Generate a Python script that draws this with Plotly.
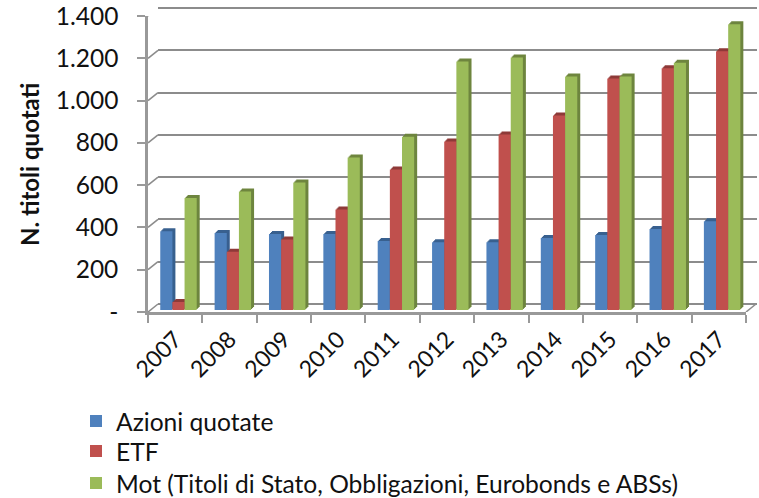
import plotly.graph_objects as go

years = ["2007","2008","2009","2010","2011","2012","2013","2014","2015","2016","2017"]
azioni = [373,364,360,360,326,321,321,340,355,383,420]
etf = [38,275,334,475,664,797,830,920,1095,1144,1224]
mot = [530,560,603,721,820,1175,1194,1104,1104,1169,1352]
y_ticks = [0,200,400,600,800,1000,1200,1400]
y_labels = ["-","200","400","600","800","1.000","1.200","1.400"]
names = ["Azioni quotate","ETF","Mot (Titoli di Stato, Obbligazioni, Eurobonds e ABSs)"]
series = [azioni, etf, mot]
front_colors = ["#4F81BD","#C0504D","#9BBB59"]
side_colors = ["#38608F","#8E3A38","#6E853F"]
legend_rows = [421, 451, 483]

W, H = 759, 498
FONT = "Lato, Carlito, sans-serif"
TXT = "#111111"
GRID = "#8C8C8C"
fx = lambda p: p / W
fy = lambda p: 1 - p / H

# pixel geometry of the three overlaid planes
L, R, T, B = 148, 746, 16, 312
cat_w = (R - L) / len(years)
px_per_unit = (B - T) / 1400
wall_dx, wall_dy = 10, 8
bar_dx, bar_dy = 3.3, 2
bar_w = 12.15 / cat_w
depth_px = [3, 2, 1]
cat_range = [-0.5, len(years) - 0.5]
wall_pad = 2  # px of extra wall range so the end gridlines are kept

fig = go.Figure()
# empty carriers so the wall and front planes exist as subplots
fig.add_scatter(x=[None], y=[None], xaxis="x", yaxis="y", showlegend=False, hoverinfo="skip")
fig.add_scatter(x=[None], y=[None], xaxis="x2", yaxis="y2", showlegend=False, hoverinfo="skip")
for i, (name, vals) in enumerate(zip(names, series)):
    off = (i - 1.5) * bar_w
    for s in depth_px:
        fig.add_bar(x=years, y=vals, base=[s / px_per_unit] * len(vals), width=bar_w,
                    offset=off + s / cat_w, marker=dict(color=side_colors[i], line_width=0),
                    showlegend=False, hoverinfo="skip", xaxis="x3", yaxis="y3")
    fig.add_bar(x=years, y=vals, name=name, width=bar_w, offset=off, showlegend=False,
                marker=dict(color=front_colors[i], line_width=0), xaxis="x3", yaxis="y3")
    # legend key, one independent legend per row
    fig.add_scatter(x=[None], y=[None], mode="markers", name=name, showlegend=True,
                    marker=dict(symbol="square", size=15, color=front_colors[i], line_width=0),
                    xaxis="x3", yaxis="y3", legend="legend" if i == 0 else f"legend{i + 1}")

common_y = dict(range=[0, 1400], tickmode="array", tickvals=y_ticks, fixedrange=True, zeroline=False)
wall_y = dict(common_y, range=[-wall_pad / px_per_unit, 1400 + wall_pad / px_per_unit])
legend_base = dict(x=fx(76), xanchor="left", yanchor="middle", itemsizing="constant",
                   font=dict(size=24.6, color=TXT), bgcolor="rgba(0,0,0,0)")
fig.update_layout(
    width=W, height=H, autosize=False,
    margin=dict(l=0, r=0, t=0, b=0, autoexpand=False),
    paper_bgcolor="white", plot_bgcolor="rgba(0,0,0,0)",
    barmode="overlay",
    font=dict(family=FONT, size=23, color=TXT),
    # back wall: gridlines only
    xaxis=dict(domain=[fx(L + wall_dx), fx(R + wall_dx + 1)], anchor="y", showgrid=False, showticklabels=False,
               ticks="", showline=False, zeroline=False, range=[0, 1], fixedrange=True),
    yaxis=dict(domain=[fy(B - wall_dy + wall_pad), fy(T - wall_dy - wall_pad)], anchor="x",
               showticklabels=False, ticks="", showgrid=True, gridcolor=GRID, gridwidth=1.6,
               showline=False, **wall_y),
    # front axes: ticks and labels
    xaxis2=dict(domain=[fx(L), fx(R)], anchor="y2", type="category", categoryorder="array",
                categoryarray=years, tickmode="array", tickvals=years, ticktext=years, range=cat_range,
                tickson="boundaries", ticks="outside", ticklen=8, tickwidth=2, tickcolor="#999999",
                showline=True, linecolor="#999999", linewidth=2.5, showgrid=False, ticklabelstandoff=2,
                tickangle=-45, tickfont=dict(size=23, color=TXT), fixedrange=True),
    yaxis2=dict(domain=[fy(B), fy(T)], anchor="x2", ticktext=y_labels, ticks="outside", ticklen=8,
                tickwidth=2, tickcolor="#999999", showline=True, linecolor="#999999", linewidth=2.5,
                showgrid=False, ticklabelstandoff=14, ticklabeloverflow="allow",
                tickfont=dict(size=24.5, color=TXT), **common_y),
    # bars plane
    xaxis3=dict(domain=[fx(L + bar_dx), fx(R + bar_dx)], anchor="y3", type="category",
                categoryorder="array", categoryarray=years, range=cat_range, visible=False, fixedrange=True),
    yaxis3=dict(domain=[fy(B - bar_dy), fy(T - bar_dy)], anchor="x3", visible=False, **common_y),
    legend=dict(y=fy(legend_rows[0]), **legend_base),
    legend2=dict(y=fy(legend_rows[1]), **legend_base),
    legend3=dict(y=fy(legend_rows[2]), **legend_base),
    showlegend=True,
    annotations=[dict(text="<b>N. titoli quotati</b>", xref="paper", yref="paper", x=fx(29), y=fy(165),
                      xanchor="center", yanchor="middle", textangle=-90, showarrow=False,
                      font=dict(size=24, color=TXT))],
)

# slanted floor/wall connectors from each front tick to the back wall
shapes = []
for v in y_ticks:
    shapes.append(dict(type="line", xref="paper", xsizemode="pixel", xanchor=fx(L),
                       yref="y2", ysizemode="pixel", yanchor=v,
                       x0=0, x1=wall_dx, y0=0, y1=wall_dy, line=dict(color=GRID, width=1.6), layer="below"))
shapes.append(dict(type="line", xref="paper", xsizemode="pixel", xanchor=fx(R),
                   yref="y2", ysizemode="pixel", yanchor=0,
                   x0=0, x1=wall_dx, y0=0, y1=wall_dy, line=dict(color=GRID, width=1.6), layer="below"))
fig.update_layout(shapes=shapes)

# remove the page's default margin so the figure fills the 759x498 window
fig.write_html("out.html", config={"displayModeBar": False},
               post_script="document.body.style.margin='0';")
